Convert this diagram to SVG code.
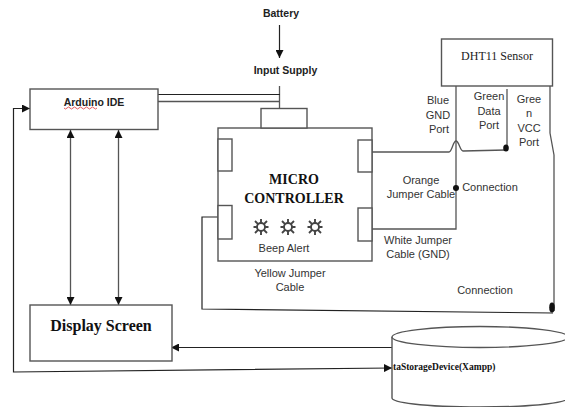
<svg xmlns="http://www.w3.org/2000/svg" width="565" height="407" viewBox="0 0 565 407">
<style>
text{font-family:"Liberation Sans",Arial,sans-serif;font-size:11px;fill:#333;text-anchor:middle}
.b{font-size:10.500px;font-weight:bold;fill:#222}
.s{font-family:"Liberation Serif","Times New Roman",serif;font-weight:bold;fill:#111}
.r{fill:#fff;stroke:#555;stroke-width:1.4}
.l{fill:none;stroke:#555;stroke-width:1.3}
.k{fill:none;stroke:#222;stroke-width:1.2}
.sun{fill:none;stroke:#444;stroke-width:1.9}
</style>
<defs>
<marker id="a" markerWidth="9" markerHeight="8" refX="8" refY="4" orient="auto-start-reverse" markerUnits="userSpaceOnUse"><path d="M0 0L8 4L0 8z" fill="#111"/></marker>
<g id="star"><circle r="4" class="sun"/><path class="sun" stroke-dasharray="none" d="M0-4V-8M0 4V8M-4 0H-7.500M4 0H7.500M-2.900-2.900L-6-6M2.900-2.900L6-6M-2.900 2.900L-6 6M2.900 2.900L6 6"/></g>
</defs>
<rect width="565" height="407" fill="#fff"/>
<g id="connectors">
<path class="k" d="M279.500 25V58" marker-end="url(#a)"/>
<path class="l" d="M279.500 86V108"/>
<path class="k" d="M158 94.500H280"/>
<path class="l" d="M158 101.500H280"/>
<path class="l" d="M70.500 130V305" marker-start="url(#a)" marker-end="url(#a)"/>
<path class="l" d="M118.500 130V305" marker-start="url(#a)" marker-end="url(#a)"/>
<path class="k" d="M392 368L13.500 372V108.500H30" marker-start="url(#a)" marker-end="url(#a)"/>
<path class="k" d="M392 347.500H171" marker-end="url(#a)"/>
<path class="l" d="M372 152H449C452 152 453 141 456 141C459 141 460 151 463 151L506 150"/>
<path class="l" d="M456 86V229H372"/>
<path class="l" d="M507 89V148"/>
<path class="l" d="M550 86V133L554 155V311"/>
<path class="k" d="M218 217H202V309L553 313"/>
</g>
<g id="node-battery"><text class="b" x="281" y="17">Battery</text></g>
<g id="node-input-supply"><text class="b" x="285.500" y="74">Input Supply</text></g>
<g id="node-arduino"><rect class="r" x="30" y="89" width="128" height="40.500"/><text class="b" x="94" y="106">Arduino IDE</text><path d="M64 108q1.500 2 3 0t3 0t3 0t3 0t3 0t3 0t3 0t3 0t3 0t3 0t3 0" fill="none" stroke="#d33" stroke-width=".8"/></g>
<g id="node-micro">
<rect class="r" x="218" y="128" width="154" height="133"/>
<rect class="r" x="261" y="108.500" width="46" height="19.500"/>
<rect class="r" x="218" y="139" width="14" height="32"/>
<rect class="r" x="218" y="205.500" width="14" height="33.500"/>
<rect class="r" x="358" y="140" width="14" height="32"/>
<rect class="r" x="358" y="208" width="14" height="33"/>
<text class="s" x="294" y="184" style="font-size:14px">MICRO</text>
<text class="s" x="294" y="203" style="font-size:14px">CONTROLLER</text>
<use href="#star" x="261" y="227"/><use href="#star" x="288" y="227"/><use href="#star" x="315" y="227"/>
<text x="284" y="252">Beep Alert</text>
</g>
<g id="node-dht11"><rect class="r" x="441.500" y="39" width="111" height="47"/><text x="497" y="60" style="font-family:'Liberation Serif',serif;font-size:12px;fill:#222">DHT11 Sensor</text></g>
<g id="node-display"><rect class="r" x="30" y="305" width="142" height="56"/><text class="s" x="101" y="331" style="font-size:16px">Display Screen</text></g>
<g id="node-storage">
<path class="r" d="M392 337V398C392 402 420 407 480 407S568 402 568 398V337"/>
<ellipse class="r" cx="480" cy="337" rx="88" ry="10.500"/>
<text class="s" x="393" y="370" style="font-size:9.500px;text-anchor:start">taStorageDevice(Xampp)</text>
</g>
<g id="labels">
<circle cx="456" cy="188" r="3" fill="#111"/>
<ellipse cx="506" cy="148" rx="2.800" ry="3.500" fill="#111"/>
<ellipse cx="552" cy="307.500" rx="2.800" ry="5" fill="#111"/>
<text x="438" y="104">Blue</text><text x="438" y="119">GND</text><text x="439" y="133">Port</text>
<text x="489" y="100">Green</text><text x="489" y="115">Data</text><text x="489" y="129">Port</text>
<text x="529" y="103">Gree</text><text x="529" y="117">n</text><text x="529" y="132">VCC</text><text x="529" y="146">Port</text>
<text x="421" y="184">Orange</text><text x="421" y="198">Jumper Cable</text>
<text x="490" y="191">Connection</text>
<text x="418" y="244">White Jumper</text><text x="418" y="258">Cable (GND)</text>
<text x="290" y="277">Yellow Jumper</text><text x="290" y="291">Cable</text>
<text x="485" y="294">Connection</text>
</g>
</svg>
